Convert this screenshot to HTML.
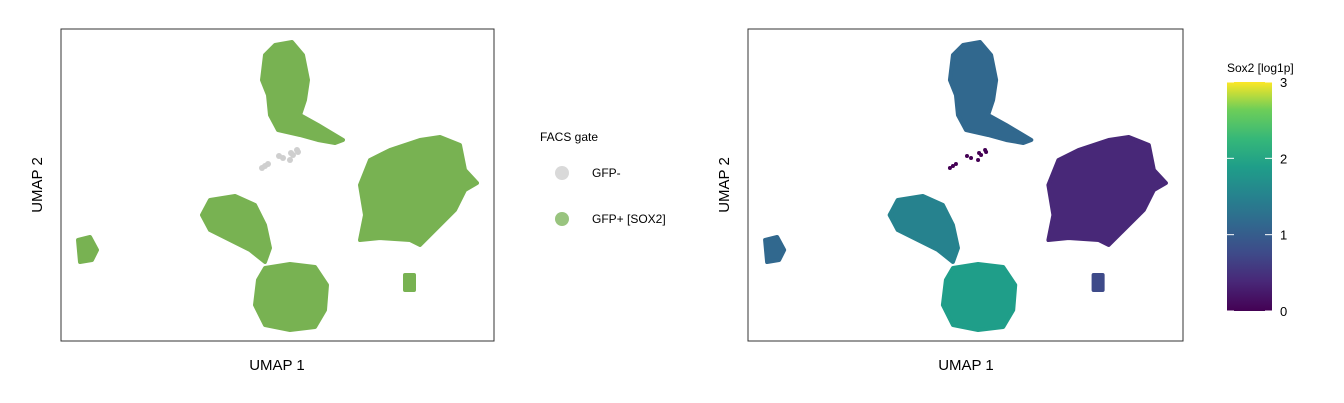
<!DOCTYPE html>
<html><head><meta charset="utf-8">
<style>
html,body{margin:0;padding:0;background:#fff;}
svg{display:block;font-family:"Liberation Sans",Arial,sans-serif;}
</style></head>
<body>
<svg id="chart" width="1344" height="403" viewBox="0 0 1344 403">
<defs>
<linearGradient id="viridis" x1="0" y1="1" x2="0" y2="0">
<stop offset="0" stop-color="#440154"/><stop offset="0.13" stop-color="#482878"/>
<stop offset="0.25" stop-color="#3e4a89"/><stop offset="0.38" stop-color="#31688e"/>
<stop offset="0.5" stop-color="#26828e"/><stop offset="0.63" stop-color="#1f9e89"/>
<stop offset="0.75" stop-color="#35b779"/><stop offset="0.88" stop-color="#6ece58"/>
<stop offset="1" stop-color="#fde725"/>
</linearGradient>
</defs>
<rect x="61" y="29" width="433" height="312" fill="none" stroke="#333" stroke-width="1"/>
<rect x="748" y="29" width="435" height="312" fill="none" stroke="#333" stroke-width="1"/>
<g id="leftMarks"></g>
<g id="rightMarks"></g>
<text x="277" y="370" font-size="15" text-anchor="middle">UMAP 1</text>
<text transform="translate(42,185) rotate(-90)" font-size="15" text-anchor="middle">UMAP 2</text>
<text x="966" y="370" font-size="15" text-anchor="middle">UMAP 1</text>
<text transform="translate(729,185) rotate(-90)" font-size="15" text-anchor="middle">UMAP 2</text>
<g>
<text x="540" y="141" font-size="12">FACS gate</text>
<g>
<circle cx="562" cy="173" r="7" fill="#d9d9d9"/>
<text x="592" y="177" font-size="12">GFP-</text></g>
<g>
<circle cx="562" cy="219" r="7" fill="#99c47f"/>
<text x="592" y="223" font-size="12">GFP+ [SOX2]</text></g>
</g>
<g>
<text x="1227" y="72" font-size="12">Sox2 [log1p]</text>
<rect x="1227" y="82" width="45" height="229" fill="url(#viridis)"/>
<g id="cbTicks"></g>
</g>
</svg>
<script>
// cluster outlines in UMAP units (x: 0..433, y: 0..312)
const clusterNames = ["top", "right-big", "mid-left", "bottom-big", "far-left", "small-right"];
const clusterOutlines = [
  [[214,296],[231,299],[242,286],[247,261],[244,241],[239,226],[257,216],[282,201],[274,198],[257,201],[239,206],[217,211],[209,226],[207,246],[201,261],[204,286]],
  [[329,191],[359,201],[379,204],[399,196],[404,171],[416,158],[404,151],[394,131],[379,116],[359,96],[349,101],[319,103],[299,101],[304,126],[299,156],[309,181]],
  [[149,141],[174,145],[194,136],[204,116],[209,93],[204,79],[189,91],[169,101],[149,111],[141,126]],
  [[204,73],[229,77],[254,74],[266,56],[264,31],[254,14],[229,11],[204,16],[194,36],[197,61]],
  [[17,101],[29,104],[36,91],[31,81],[19,79]],
  [[344,66],[353,66],[353,51],[344,51]]
];
const clusterSox2 = [0.85, 0.3, 1.35, 1.7, 1.0, 0.8];
const gfpNegX = [204,207,201,218,230,236,232,237,229,222];
const gfpNegY = [175,177,173,185,188,191,186,189,181,183];
const gfpNegSox2 = [0.05,0.1,0.0,0.1,0.0,0.05,0.1,0.0,0.05,0.1];
const cbTicks = [0,1,2,3];

const NS = "http://www.w3.org/2000/svg";
const yS = v => 341 - v;
const xL = v => 61 + v;
const xR = v => 748 + v * (435/433);
const cbY = v => 311 - v / 3 * 229;
const vir = ["#440154","#482878","#3e4a89","#31688e","#26828e","#1f9e89","#35b779","#6ece58","#b5de2b","#fde725"];
function color(v){ let i = Math.max(0, Math.min(vir.length-1, Math.round(v/3*(vir.length-1)))); return vir[i]; }

function drawPanel(gid, xs, mode){
  const g = document.getElementById(gid);
  clusterOutlines.forEach((poly, i) => {
    const p = document.createElementNS(NS, "polygon");
    p.setAttribute("points", poly.map(pt => xs(pt[0]) + "," + yS(pt[1])).join(" "));
    const c = mode === "left" ? "#6aaa40" : color(clusterSox2[i]);
    p.setAttribute("fill", c);
    p.setAttribute("stroke", c);
    p.setAttribute("stroke-width", "4");
    p.setAttribute("stroke-linejoin", "round");
    p.setAttribute("opacity", mode === "left" ? "0.9" : "1");
    
    
    g.appendChild(p);
  });
  gfpNegX.forEach((x, i) => {
    const c = document.createElementNS(NS, "circle");
    c.setAttribute("cx", xs(x)); c.setAttribute("cy", yS(gfpNegY[i]));
    c.setAttribute("r", mode === "left" ? 3 : 2);
    c.setAttribute("fill", mode === "left" ? "#cfcfcf" : color(gfpNegSox2[i]));
    
    
    g.appendChild(c);
  });
}
drawPanel("leftMarks", xL, "left");
drawPanel("rightMarks", xR, "right");

const tg = document.getElementById("cbTicks");
cbTicks.forEach(t => {
  const y = cbY(t);
  [[1227,1234],[1265,1272]].forEach(s => {
    const l = document.createElementNS(NS, "line");
    l.setAttribute("x1", s[0]); l.setAttribute("x2", s[1]);
    l.setAttribute("y1", y); l.setAttribute("y2", y);
    l.setAttribute("stroke", "#fff"); l.setAttribute("stroke-width", "1");
    
    
    tg.appendChild(l);
  });
  const tx = document.createElementNS(NS, "text");
  tx.setAttribute("x", 1280); tx.setAttribute("y", y + 5);
  tx.setAttribute("font-size", "13");
  tx.textContent = t;
  
  
  tg.appendChild(tx);
});
</script>
</body></html>
